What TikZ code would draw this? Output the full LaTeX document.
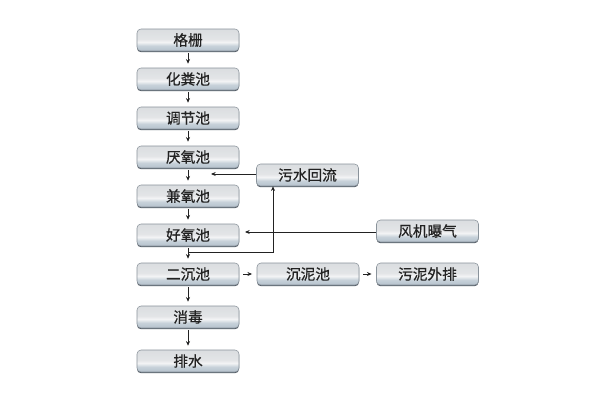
\documentclass[tikz,border=0pt]{standalone}
\usepackage{fontspec}
\newfontfamily\cjk[FakeBold=0.6]{Noto Sans CJK SC}
\usetikzlibrary{arrows.meta,shadows}
\definecolor{txt}{HTML}{222222}
\definecolor{bB}{HTML}{B4C1CC}
\definecolor{bM}{HTML}{C8D2DA}
\definecolor{bW}{HTML}{F3F4F5}
\definecolor{bT}{HTML}{E3E5E7}
\definecolor{bTT}{HTML}{DADDE0}
\definecolor{rim}{HTML}{4F5862}
\definecolor{edge}{HTML}{8A939B}
\pgfdeclareverticalshading{boxshade}{100bp}{color(0bp)=(bB); color(25bp)=(bB); color(37bp)=(bM); color(45bp)=(bW); color(52bp)=(bT); color(75bp)=(bTT); color(100bp)=(bTT)}
\tikzset{
  procbox/.style={rounded corners=3pt, shading=boxshade, draw=edge, line width=0.4pt,
    minimum width=76.5pt, minimum height=16.5pt, inner sep=0pt,
    font=\cjk\fontsize{11}{13}\selectfont, text=txt,
    drop shadow={shadow xshift=0pt, shadow yshift=-0.9pt, opacity=1, fill=rim}},
  arr/.style={draw=txt, line width=0.6pt, -{Stealth[length=3.5pt,width=3pt]}},
  vstep/.style={arr, shorten <=1.5pt, shorten >=3pt},
  hstep/.style={arr, shorten <=3pt, shorten >=3.5pt}
}
\begin{document}
\begin{tikzpicture}[x=0.75pt,y=-0.75pt]
\useasboundingbox (0,0) rectangle (600,400);
\fill[white] (0,0) rectangle (600,400);
\node[procbox] (g) at (188,40) {格栅};
\node[procbox] (h) at (188,79) {化粪池};
\node[procbox] (t) at (188,118) {调节池};
\node[procbox] (y) at (188,157) {厌氧池};
\node[procbox] (j) at (188,196) {兼氧池};
\node[procbox] (o) at (188,235) {好氧池};
\node[procbox] (e) at (188,274) {二沉池};
\node[procbox] (x) at (188,317) {消毒};
\node[procbox] (p) at (188,361) {排水};
\node[procbox] (hl) at (307.5,175) {污水回流};
\node[procbox] (fj) at (427.5,231) {风机曝气};
\node[procbox] (cn) at (308,274) {沉泥池};
\node[procbox] (wn) at (427.5,274) {污泥外排};
\draw[vstep] (g) -- (h);
\draw[vstep] (h) -- (t);
\draw[vstep] (t) -- (y);
\draw[vstep] (y) -- (j);
\draw[vstep] (j) -- (o);
\draw[vstep] (o) -- (e);
\draw[vstep] (e) -- (x);
\draw[vstep] (x) -- (p);
\draw[hstep] (e) -- (cn);
\draw[hstep] (cn) -- (wn);
\coordinate (a1) at (211,174);
\draw[arr] (hl.west |- a1) -- (a1);
\coordinate (a2) at (245,232);
\draw[arr] (fj.west |- a2) -- (a2);
\coordinate (jn) at (188,252);
\coordinate (rc) at (273,252);
\draw[arr] (jn) -- (rc) -- (rc |- hl.south);
\end{tikzpicture}
\end{document}
